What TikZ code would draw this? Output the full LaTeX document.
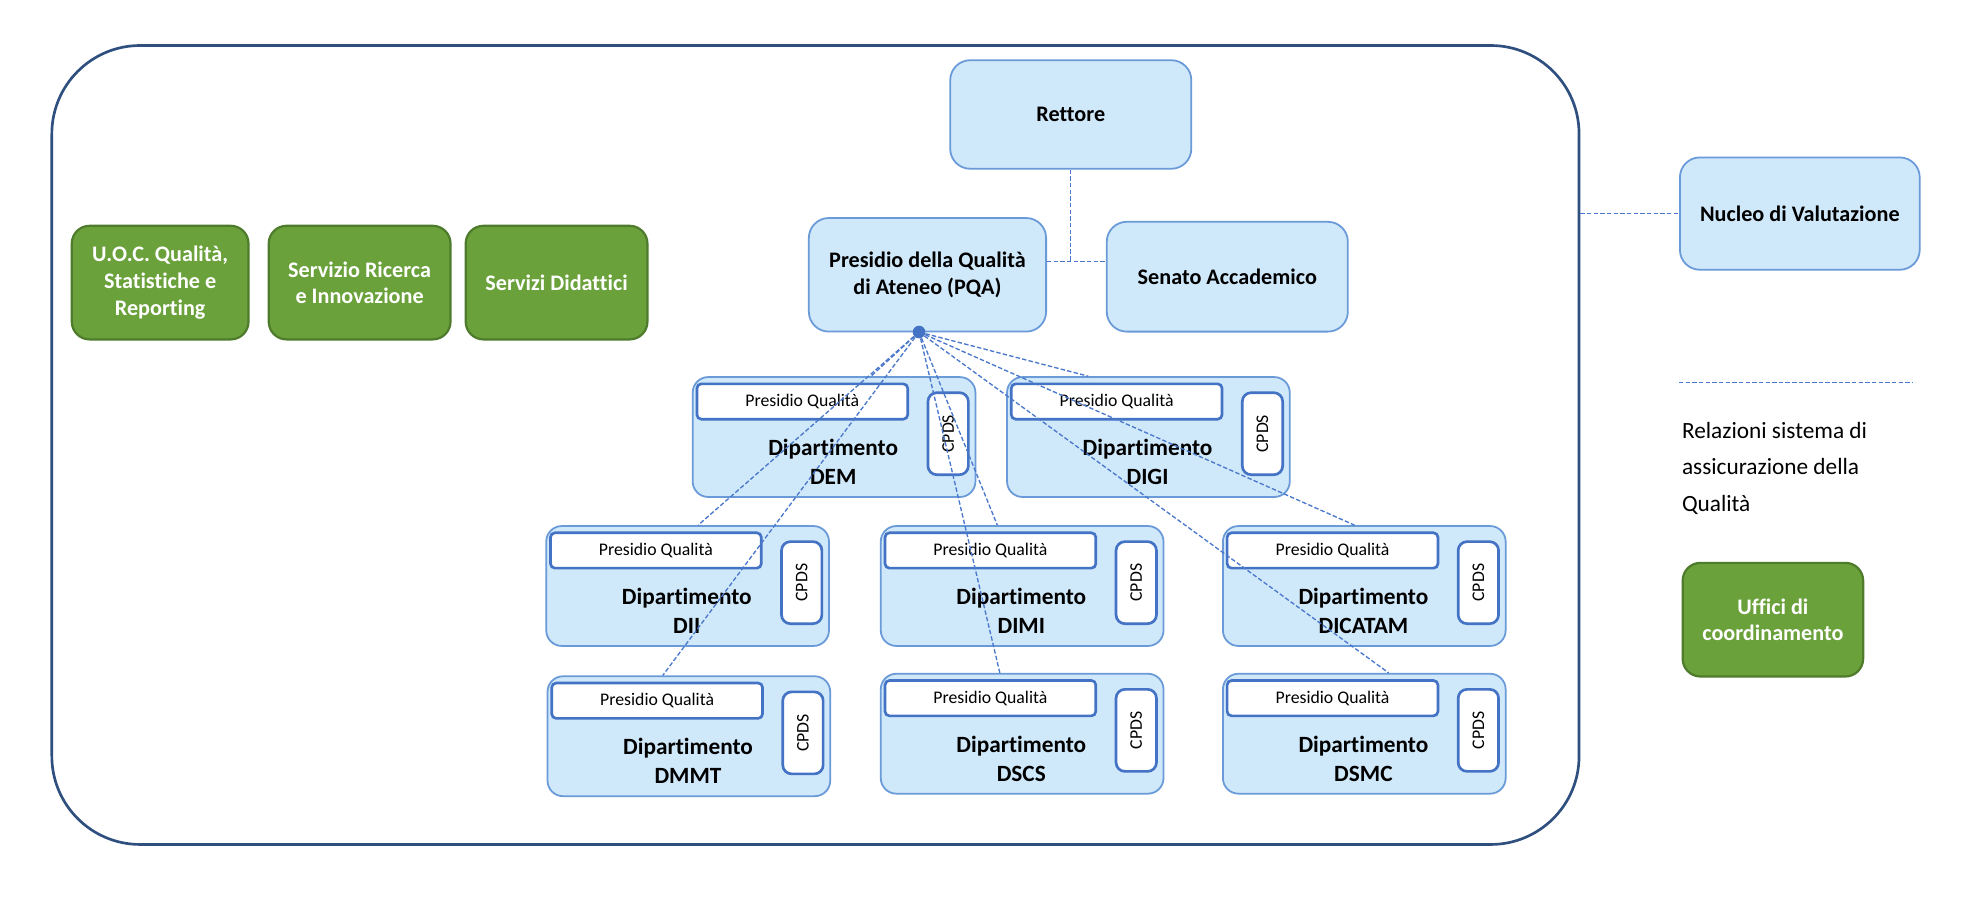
\documentclass[tikz,border=0pt]{standalone}
\usepackage{fontspec}
\setmainfont{Carlito}[Ligatures={NoCommon}]
\definecolor{bfill}{HTML}{CFE8FA}
\definecolor{bdraw}{HTML}{6A9BD8}
\definecolor{idraw}{HTML}{4472C4}
\definecolor{odraw}{HTML}{2F4F7F}
\definecolor{gfill}{HTML}{6AA13B}
\definecolor{gdraw}{HTML}{4E7B2C}
\definecolor{rline}{HTML}{4A78CC}
\begin{document}
\begin{tikzpicture}[x=0.02cm,y=-0.02cm,
  blue/.style={draw=bdraw,fill=bfill,rounded corners=9pt,line width=0.8pt,align=center,font=\fontsize{10}{12}\selectfont\bfseries,inner sep=0pt},
  green/.style={draw=gdraw,fill=gfill,rounded corners=8pt,line width=1pt,align=center,text=white,font=\fontsize{10}{12}\selectfont\bfseries,inner sep=0pt},
  pq/.style={draw=idraw,fill=white,rounded corners=2pt,line width=1.2pt,font=\fontsize{8}{10}\selectfont,inner sep=0pt,minimum width=3.34cm,minimum height=0.56cm,anchor=north west},
  cp/.style={draw=idraw,fill=white,rounded corners=4pt,line width=1.2pt,font=\fontsize{8}{10}\selectfont,inner sep=0pt,minimum width=0.64cm,minimum height=1.3cm,anchor=north west},
  rel/.style={dashed,dash pattern=on 2pt off 1pt,draw=rline,line width=0.6pt}]
\useasboundingbox (0,0) rectangle (1570,712);
\fill[white] (0,0) rectangle (1570,712);
\node[draw=odraw,line width=1.2pt,rounded corners=1.4cm,minimum width=24.2cm,minimum height=12.66cm,anchor=north west] (outer) at (40,35) {};
\node[blue,minimum width=3.82cm,minimum height=1.72cm,anchor=north west] (rett) at (752,47) {Rettore};
\node[blue,minimum width=3.76cm,minimum height=1.8cm,anchor=north west] (pqa) at (640,172) {Presidio della Qualità\\di Ateneo (PQA)};
\node[blue,minimum width=3.82cm,minimum height=1.74cm,anchor=north west] (sen) at (876,175) {Senato Accademico};
\node[blue,minimum width=3.8cm,minimum height=1.78cm,anchor=north west] (nuc) at (1330,124) {Nucleo di Valutazione};
\coordinate (j) at (848,207);
\draw[rel] (rett.south -| j) -- (j);
\draw[rel] (pqa.east |- j) -- (sen.west |- j);
\draw[rel] (outer.east |- nuc.west) -- (nuc.west);
\node[green,minimum width=2.8cm,minimum height=1.8cm,anchor=north west] (uoc) at (56,178) {U.O.C. Qualità,\\Statistiche e\\Reporting};
\node[green,minimum width=2.88cm,minimum height=1.8cm,anchor=north west] (sri) at (212,178) {Servizio Ricerca\\e Innovazione};
\node[green,minimum width=2.88cm,minimum height=1.8cm,anchor=north west] (sdi) at (368,178) {Servizi Didattici};
\node[green,minimum width=2.86cm,minimum height=1.8cm,anchor=north west] (uff) at (1332,445) {Uffici di\\coordinamento};
\coordinate (l1) at (1330,303); \coordinate (l2) at (1515,303);
\draw[rel] (l1) -- (l2);
\node[anchor=north west,align=left,font=\fontsize{10.5}{16.5}\selectfont,inner sep=0pt] (leg) at (1332,334) {Relazioni sistema di\\assicurazione della\\Qualità};
\newcommand\dept[4]{%
  \node[blue,rounded corners=7pt,minimum width=4.48cm,minimum height=1.9cm,anchor=north west] (#1) at (#2,#3) {};
  \node[pq] (#1p) at ([shift={(3,5)}]#1.north west) {Presidio Qualità};
  \node[cp] (#1c) at ([shift={(186,12)}]#1.north west) {\rotatebox{90}{CPDS}};
  \node[font=\fontsize{10.5}{13}\selectfont\bfseries,align=center,inner sep=0pt] (#1t) at ([shift={(112,68)}]#1.north west) {Dipartimento\\#4};}
\dept{dem}{548}{298}{DEM}
\dept{digi}{797}{298}{DIGI}
\dept{dii}{432}{416}{DII}
\dept{dimi}{697}{416}{DIMI}
\dept{dic}{968}{416}{DICATAM}
\dept{dmmt}{433}{535}{DMMT}
\dept{dscs}{697}{533}{DSCS}
\dept{dsmc}{968}{533}{DSMC}
\coordinate (hub) at (728,263);
\foreach \n/\xx in {dem/142,digi/65,dii/121,dimi/93,dic/105,dmmt/92,dscs/95,dsmc/132}
  \draw[rel] (hub) -- ([xshift=\xx*0.02cm]\n.north west);
\fill[idraw] (hub) circle (5);
\end{tikzpicture}
\end{document}
